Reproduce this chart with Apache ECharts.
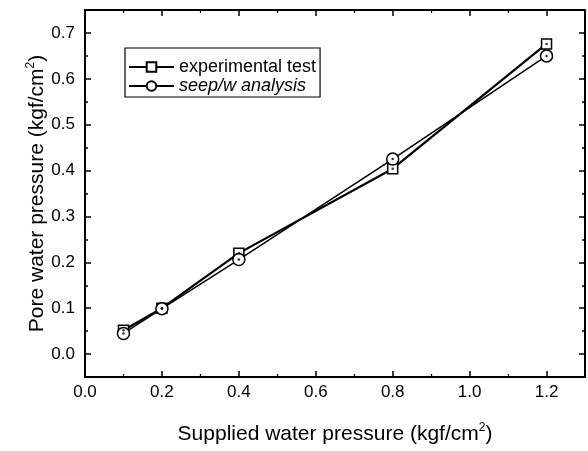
<!DOCTYPE html>
<html>
<head>
<meta charset="utf-8">
<title>Pore water pressure</title>
<script src="https://cdn.jsdelivr.net/npm/echarts@6/dist/echarts.min.js"></script>
<style>
  html, body { margin: 0; padding: 0; background: #fff; }
  #chart { width: 588px; height: 451px; }
</style>
</head>
<body>
<div id="chart"></div>
<script>
/*
 * supplied water pressure vs pore water pressure
 */

// supplied water pressure (kgf/cm2)
var xValues = [0.1, 0.2, 0.4, 0.8, 1.2];
// experimental test
var expValues = [0.052, 0.100, 0.220, 0.404, 0.676];
// seep/w analysis
var seepValues = [0.045, 0.099, 0.206, 0.425, 0.650];

var seriesNames = ["experimental test", "seep/w analysis"];

// y axis ticks (major / minor)
var yTicks = [0.0, 0.1, 0.2, 0.3, 0.4, 0.5, 0.6, 0.7];
var yMinorTicks = [0.05, 0.15, 0.25, 0.35, 0.45, 0.55, 0.65];

var FONT = "Liberation Sans, Arial, sans-serif";

function toPairs(xs, ys) {
	return xs.map(function(x, i){
		return [x, ys[i]];
	});
}

var nameStyle = {
	color: "#000", fontFamily: FONT, fontSize: 21, lineHeight: 24,
	rich: { sup: { fontSize: 12, verticalAlign: "top", lineHeight: 24, color: "#000", fontFamily: FONT, padding: [0, 0, 7, 0] } }
};

function makeXAxis(position, showLabel) {
	return {
		type: "value",
		position: position,
		min: 0,
		max: 1.3,
		interval: 0.2,
		name: showLabel ? "Supplied water pressure (kgf/cm{sup|2})" : "",
		nameLocation: "middle",
		nameGap: 45,
		nameMoveOverlap: false,
		nameTextStyle: nameStyle,
		axisLine: { show: true, onZero: false, lineStyle: { color: "#000", width: 2 } },
		axisTick: { show: true, inside: true, length: 6, lineStyle: { color: "#000", width: 1.5 } },
		minorTick: { show: true, splitNumber: 2, length: 3, lineStyle: { color: "#000", width: 1.2 } },
		axisLabel: {
			show: showLabel, color: "#000", fontFamily: FONT, fontSize: 17, margin: 7,
			showMaxLabel: false,
			formatter: function(v){ return v.toFixed(1); }
		},
		splitLine: { show: false }
	};
}

function makeYAxis(position, showLabel, ticks, tickLen) {
	return {
		type: "value",
		position: position,
		min: -0.05,
		max: 0.75,
		name: showLabel ? "Pore water pressure (kgf/cm{sup|2})" : "",
		nameLocation: "middle",
		nameRotate: 90,
		nameGap: 36,
		nameMoveOverlap: false,
		nameTextStyle: nameStyle,
		axisLine: { show: true, onZero: false, lineStyle: { color: "#000", width: 2 } },
		axisTick: { show: true, inside: true, length: tickLen, customValues: ticks, lineStyle: { color: "#000", width: 1.5 } },
		axisLabel: {
			show: showLabel, color: "#000", fontFamily: FONT, fontSize: 17, margin: 10,
			customValues: ticks,
			formatter: function(v){ return v.toFixed(1); }
		},
		splitLine: { show: false }
	};
}

function drawChart() {
	var voChart = echarts.init(document.getElementById("chart"), null, { renderer: "canvas" });

	var voOption = {
		backgroundColor: "#fff",
		animation: false,
		grid: { left: 85, right: 3, top: 10, bottom: 73, containLabel: false },
		legend: {
			orient: "vertical",
			left: 125,
			top: 48,
			padding: [10, 4, 2, 3],
			itemGap: 1,
			itemWidth: 45,
			itemHeight: 12,
			borderColor: "#000",
			borderWidth: 1.2,
			textStyle: { color: "#000", fontFamily: FONT, fontSize: 18 },
			data: [
				{ name: seriesNames[0] },
				{ name: seriesNames[1], textStyle: { fontStyle: "italic" } }
			]
		},
		xAxis: [
			makeXAxis("bottom", true),
			makeXAxis("top", false)
		],
		yAxis: [
			makeYAxis("left", true, yTicks, 6),
			makeYAxis("right", false, yTicks, 6),
			makeYAxis("left", false, yMinorTicks, 3),
			makeYAxis("right", false, yMinorTicks, 3)
		],
		series: [
			{
				name: seriesNames[0],
				type: "line",
				data: toPairs(xValues, expValues),
				symbol: "rect",
				symbolSize: 10,
				lineStyle: { color: "#000", width: 2.2 },
				itemStyle: { color: "#fff", borderColor: "#000", borderWidth: 1.5 },
				z: 3
			},
			{
				name: seriesNames[1],
				type: "line",
				data: toPairs(xValues, seepValues),
				symbol: "circle",
				symbolSize: 12,
				lineStyle: { color: "#000", width: 1.5 },
				itemStyle: { color: "#fff", borderColor: "#000", borderWidth: 1.5 },
				z: 4
			},
			// center dots of the markers
			{
				type: "scatter",
				data: toPairs(xValues, expValues),
				symbolSize: 2.5,
				itemStyle: { color: "#000" },
				silent: true,
				z: 5
			},
			{
				type: "scatter",
				data: toPairs(xValues, seepValues),
				symbolSize: 2.5,
				itemStyle: { color: "#000" },
				silent: true,
				z: 6
			}
		]
	};

	voChart.setOption(voOption);
	return voChart;
}

drawChart();
</script>
</body>
</html>
